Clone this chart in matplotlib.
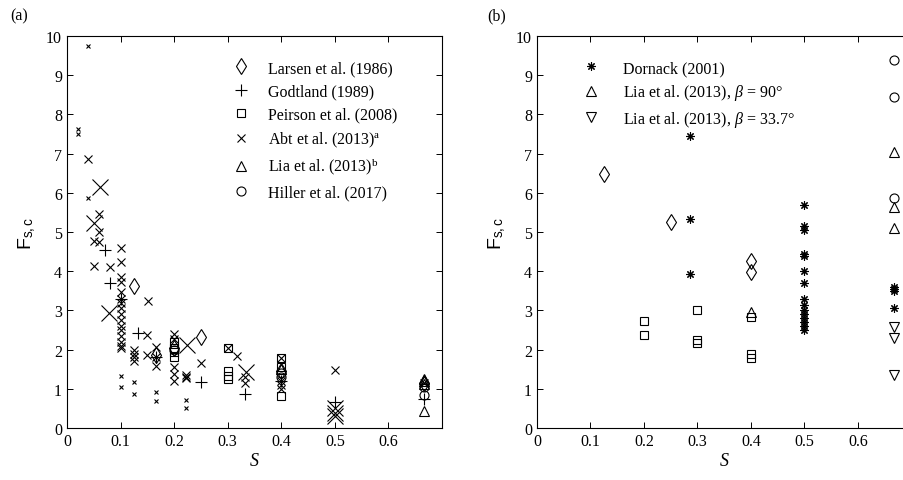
import numpy as np
from matplotlib import pyplot as plt

plt.rcParams['font.family'] = 'Liberation Serif'
plt.rcParams['mathtext.fontset'] = 'custom'
plt.rcParams['mathtext.rm'] = 'Liberation Serif'
plt.rcParams['mathtext.it'] = 'Liberation Serif:italic'
plt.rcParams['mathtext.sf'] = 'Liberation Sans'
plt.rcParams['font.size'] = 11.5

# ---- panel (a) data: S, F_s,c ----
larsen_s = [0.125, 0.25, 0.2, 0.167, 0.4, 0.667]
larsen_f = [3.61, 2.31, 2.05, 1.85, 1.45, 1.15]

godt_s = [0.071, 0.08, 0.1, 0.132, 0.167, 0.25, 0.333, 0.4, 0.5, 0.667]
godt_f = [4.55, 3.7, 3.3, 2.42, 1.8, 1.18, 0.87, 1.2, 0.66, 0.75]

peir_s = [0.2, 0.2, 0.2, 0.2, 0.3, 0.3, 0.3, 0.3, 0.4, 0.4, 0.4]
peir_f = [2.2, 2.05, 1.95, 1.8, 2.03, 1.45, 1.33, 1.25, 1.78, 1.55, 0.82]

abt_med_s = [0.04, 0.06, 0.06, 0.051, 0.06, 0.051, 0.081, 0.1, 0.1, 0.1, 0.1, 0.1,
             0.1, 0.1, 0.1, 0.1, 0.1, 0.1, 0.1, 0.1, 0.1, 0.1, 0.1, 0.151, 0.15,
             0.125, 0.125, 0.125, 0.125, 0.15, 0.167, 0.167, 0.167, 0.2, 0.2, 0.2,
             0.2, 0.2, 0.222, 0.222, 0.222, 0.25, 0.3, 0.317, 0.333, 0.333, 0.4,
             0.4, 0.4, 0.4, 0.5, 0.667]
abt_med_f = [6.86, 5.46, 5.0, 4.78, 4.75, 4.14, 4.1, 4.58, 4.23, 3.84, 3.72, 3.47,
             3.3, 3.2, 3.05, 2.9, 2.75, 2.6, 2.5, 2.35, 2.2, 2.1, 2.05, 3.25, 2.38,
             1.98, 1.88, 1.8, 1.7, 1.87, 2.06, 1.8, 1.59, 2.4, 2.27, 1.55,
             1.38, 1.21, 1.35, 1.3, 1.27, 1.65, 2.03, 1.84, 1.29, 1.16, 1.78,
             1.2, 1.1, 1.0, 1.49, 1.15]
abt_small_s = [0.04, 0.02, 0.02, 0.04, 0.1, 0.1, 0.125, 0.125, 0.167, 0.167, 0.222, 0.222]
abt_small_f = [9.75, 7.62, 7.5, 5.86, 1.32, 1.04, 1.17, 0.87, 0.91, 0.68, 0.71, 0.51]
abt_large_s = [0.062, 0.051, 0.079, 0.224, 0.334, 0.5, 0.5, 0.5]
abt_large_f = [6.14, 5.23, 2.93, 2.12, 1.44, 0.5, 0.38, 0.3]

lia_s = [0.4, 0.667, 0.667, 0.667, 0.667]
lia_f = [1.5, 1.25, 1.2, 1.13, 0.44]

hill_s = [0.2, 0.4, 0.4, 0.667, 0.667]
hill_f = [2.0, 1.4, 1.3, 1.05, 0.85]

# ---- panel (b) data ----
dorn_s = [0.286, 0.286, 0.286] + [0.5] * 15 + [0.667] * 4
dorn_f = [7.46, 5.33, 3.93,
          5.7, 5.15, 5.05, 4.45, 4.4, 4.0, 3.7, 3.3, 3.15, 3.0, 2.9, 2.8, 2.7, 2.6, 2.5,
          3.6, 3.55, 3.5, 3.05]
larsen_b_s = [0.125, 0.25, 0.4, 0.4]
larsen_b_f = [6.47, 5.25, 4.25, 3.98]
peir_b_s = [0.2, 0.2, 0.3, 0.3, 0.3, 0.4, 0.4, 0.4]
peir_b_f = [2.72, 2.38, 3.0, 2.25, 2.18, 2.83, 1.88, 1.78]
hill_b_s = [0.667, 0.667, 0.667]
hill_b_f = [9.38, 8.45, 5.88]
lia90_s = [0.4, 0.667, 0.667, 0.667]
lia90_f = [2.95, 7.03, 5.65, 5.09]
lia33_s = [0.667, 0.667, 0.667]
lia33_f = [2.57, 2.3, 1.35]

W, H = 904, 481
fig = plt.figure(figsize=(W / 100, H / 100), dpi=100)
ax1 = fig.add_axes([67 / W, 1 - 429 / H, 375 / W, 392 / H])
ax2 = fig.add_axes([537 / W, 1 - 429 / H, 374.5 / W, 392 / H])

kw = dict(linestyle='none', color='k', mfc='none', mew=0.8)

ax1.plot(larsen_s, larsen_f, marker='d', ms=8, label='Larsen et al. (1986)', **kw)
ax1.plot(godt_s, godt_f, marker='+', ms=8, label='Godtland (1989)', **kw)
ax1.plot(peir_s, peir_f, marker='s', ms=5.5, label='Peirson et al. (2008)', **kw)
ax1.plot(abt_med_s, abt_med_f, marker='x', ms=6, label=r'Abt et al. (2013)$^{\mathrm{a}}$', **kw)
ax1.plot(abt_small_s, abt_small_f, marker='x', ms=3.5, **kw)
ax1.plot(abt_large_s, abt_large_f, marker='x', ms=12, **kw)
ax1.plot(lia_s, lia_f, marker='^', ms=7, label=r'Lia et al. (2013)$^{\mathrm{b}}$', **kw)
ax1.plot(hill_s, hill_f, marker='o', ms=6.5, label='Hiller et al. (2017)', **kw)

ax2.plot(dorn_s, dorn_f, marker=(8, 2, 0), ms=6, label='Dornack (2001)', **kw)
ax2.plot(larsen_b_s, larsen_b_f, marker='d', ms=8, **kw)
ax2.plot(peir_b_s, peir_b_f, marker='s', ms=5.5, **kw)
ax2.plot(hill_b_s, hill_b_f, marker='o', ms=6.5, **kw)
ax2.plot(lia90_s, lia90_f, marker='^', ms=7, label=r'Lia et al. (2013), $\beta$ = 90°', **kw)
ax2.plot(lia33_s, lia33_f, marker='v', ms=7, label=r'Lia et al. (2013), $\beta$ = 33.7°', **kw)

for ax in (ax1, ax2):
    ax.set_xlim(0, 0.7)
    ax.set_ylim(0, 10)
    ax.set_xticks(np.arange(0, 0.65, 0.1))
    ax.set_xticklabels(['0', '0.1', '0.2', '0.3', '0.4', '0.5', '0.6'])
    ax.set_yticks(range(0, 11))
    ax.tick_params(direction='in', top=True, right=True, length=4, width=0.7, labelsize=11.5)
    for sp in ax.spines.values():
        sp.set_linewidth(0.8)
    ax.set_xlabel('$S$', fontsize=13, labelpad=2)
    ax.set_ylabel(r'$\mathsf{F}_{\mathsf{s,c}}$', fontsize=14, labelpad=6)

ax1.legend(loc='upper left', bbox_to_anchor=(0.405, 0.955), frameon=False,
           fontsize=11.5, handletextpad=0.7, labelspacing=0.45, borderaxespad=0)
ax2.legend(loc='upper left', bbox_to_anchor=(0.085, 0.955), frameon=False,
           fontsize=11.5, handletextpad=1.0, labelspacing=0.4, borderaxespad=0)

fig.text(10 / W, 1 - 16 / H, '(a)', fontsize=11.5, va='center')
fig.text(487 / W, 1 - 16 / H, '(b)', fontsize=11.5, va='center')

fig.savefig('out.png', dpi=100)
